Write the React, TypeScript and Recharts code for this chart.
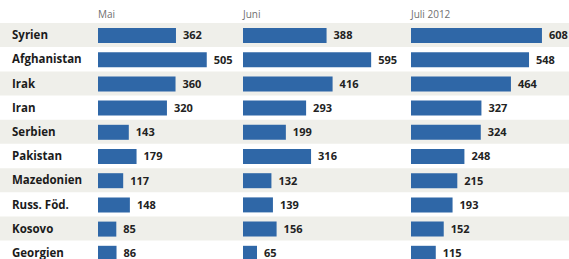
import React from 'react';
import { BarChart, Bar, XAxis, YAxis, LabelList } from 'recharts';

const laender = ['Syrien', 'Afghanistan', 'Irak', 'Iran', 'Serbien', 'Pakistan', 'Mazedonien', 'Russ. Föd.', 'Kosovo', 'Georgien'];
const mai = [362, 505, 360, 320, 143, 179, 117, 148, 85, 86];
const juni = [388, 595, 416, 293, 199, 316, 132, 139, 156, 65];
const juli = [608, 548, 464, 327, 324, 248, 215, 193, 152, 115];
const monate = ['Mai', 'Juni', 'Juli 2012'];

const data = laender.map((land, i) => ({
  land,
  mai: mai[i],
  juni: juni[i],
  juli: juli[i],
  streifen: i % 2 === 0 ? 1 : 0,
}));

const FONT = '"Open Sans", "DejaVu Sans", sans-serif';
const CHART_H = 265;
const TOP = 23;
const BLUE = '#2f67a7';
const BAND = '#efefea';

const panels = [
  { key: 'mai', left: 0, width: 243, yWidth: 98, right: 5 },
  { key: 'juni', left: 243, width: 168, yWidth: 0, right: 28 },
  { key: 'juli', left: 411, width: 158, yWidth: 0, right: 18 },
];

const CategoryTick = (props: any) => {
  const { y, payload } = props;
  return (
    <text x={12} y={y} dy={4} fontFamily={FONT} fontSize={11.5} fontWeight={700} fill="#1b1b1b" textAnchor="start">
      {payload.value}
    </text>
  );
};

export default function App() {
  return (
    <div
      style={{
        position: 'absolute',
        left: 0,
        top: 0,
        width: 569,
        height: 259,
        overflow: 'hidden',
        background: '#ffffff',
        fontFamily: FONT,
      }}
    >
      <div style={{ position: 'absolute', left: 0, top: 0 }}>
        <BarChart
          width={569}
          height={CHART_H}
          data={data}
          layout="vertical"
          barCategoryGap={0}
          margin={{ top: TOP, right: 0, bottom: 0, left: 0 }}
        >
          <XAxis type="number" hide domain={[0, 1]} />
          <YAxis type="category" dataKey="land" hide width={0} />
          <Bar dataKey="streifen" fill={BAND} isAnimationActive={false} />
        </BarChart>
      </div>
      {panels.map((p, idx) => (
        <div key={p.key} style={{ position: 'absolute', left: p.left, top: 0 }}>
          <div
            style={{
              position: 'absolute',
              left: p.yWidth,
              top: 7,
              fontSize: 10,
              color: '#6f6f6f',
              lineHeight: '14px',
              whiteSpace: 'nowrap',
            }}
          >
            {monate[idx]}
          </div>
          <BarChart
            width={p.width}
            height={CHART_H}
            data={data}
            layout="vertical"
            margin={{ top: TOP, right: p.right, bottom: 0, left: 0 }}
          >
            <XAxis type="number" hide domain={[0, 650]} />
            {p.yWidth > 0 ? (
              <YAxis
                type="category"
                dataKey="land"
                width={p.yWidth}
                axisLine={false}
                tickLine={false}
                tick={<CategoryTick />}
                interval={0}
              />
            ) : (
              <YAxis type="category" dataKey="land" hide width={0} />
            )}
            <Bar dataKey={p.key} fill={BLUE} barSize={15} isAnimationActive={false}>
              <LabelList
                dataKey={p.key}
                position="right"
                offset={7}
                fill="#222222"
                fontSize={11}
                fontWeight={700}
                fontFamily={FONT}
              />
            </Bar>
          </BarChart>
        </div>
      ))}
    </div>
  );
}
